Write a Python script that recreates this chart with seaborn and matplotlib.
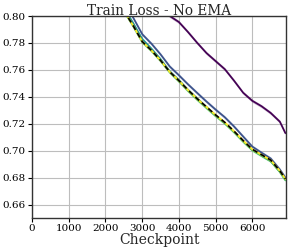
import numpy as np
import pandas as pd
import matplotlib
matplotlib.use("Agg")
import matplotlib.pyplot as plt
import seaborn as sns

checkpoints = [2500, 2750, 3000, 3250, 3500, 3750, 4000, 4250, 4500, 4750,
               5000, 5250, 5500, 5750, 6000, 6250, 6500, 6750, 6900]

loss_purple = [np.nan, np.nan, np.nan, np.nan, 0.806, 0.800, 0.7955, 0.788, 0.780, 0.7725,
               0.7665, 0.7605, 0.752, 0.743, 0.737, 0.733, 0.728, 0.7215, 0.713]
loss_blue = [0.810, 0.799, 0.7865, 0.7795, 0.7715, 0.7625, 0.756, 0.7492, 0.7428, 0.7365,
             0.7305, 0.7248, 0.718, 0.7105, 0.703, 0.6985, 0.6942, 0.686, 0.680]
loss_teal = [0.806, 0.795, 0.783, 0.7758, 0.768, 0.759, 0.7525, 0.7452, 0.7388, 0.7325,
             0.7263, 0.7205, 0.714, 0.707, 0.7005, 0.6963, 0.6922, 0.6843, 0.6782]
loss_green = [0.8035, 0.7925, 0.7805, 0.774, 0.7665, 0.758, 0.7513, 0.7442, 0.7377, 0.7316,
              0.7256, 0.7201, 0.7136, 0.7066, 0.7002, 0.6961, 0.6921, 0.6841, 0.678]
loss_yellow = [0.804, 0.793, 0.781, 0.7745, 0.767, 0.7585, 0.752, 0.745, 0.7385, 0.7325,
               0.7265, 0.721, 0.7145, 0.7075, 0.701, 0.697, 0.693, 0.685, 0.679]

series_names = ["run 1", "run 2", "run 3", "run 4", "run 5"]
series_values = [loss_purple, loss_blue, loss_teal, loss_green, loss_yellow]
band_halfwidth = [0.0012, 0.0012, 0.0008, 0.0010, 0.0008]

x_ticks = [0, 1000, 2000, 3000, 4000, 5000, 6000]
y_ticks = [0.66, 0.68, 0.70, 0.72, 0.74, 0.76, 0.78, 0.80]

colors = ["#440154", "#3b528b", "#21918c", "#5ec962", "#fde725"]

rows = []
for name, vals in zip(series_names, series_values):
    for c, v in zip(checkpoints, vals):
        rows.append({"Checkpoint": c, "loss": v, "series": name})
df = pd.DataFrame(rows)

sns.set_style("white")
plt.rcParams["font.family"] = ["DejaVu Serif"]

fig = plt.figure(figsize=(2.89, 2.52), dpi=100)
ax = fig.add_axes([0.111, 0.135, 0.879, 0.8015])

for name, vals, hw, col in zip(series_names, series_values, band_halfwidth, colors):
    v = np.array(vals, dtype=float)
    ax.fill_between(checkpoints, v - hw, v + hw, color=col, alpha=0.25, lw=0)

sns.lineplot(data=df, x="Checkpoint", y="loss", hue="series", palette=colors,
             hue_order=series_names, ax=ax, legend=False, linewidth=1.25)
sns.lineplot(x=checkpoints, y=loss_yellow, ax=ax, color="black",
             linestyle=(0, (3, 2)), linewidth=1.25)

ax.set_xlim(0, 6920)
ax.set_ylim(0.65, 0.80)
ax.set_xticks(x_ticks)
ax.set_yticks(y_ticks)
ax.set_yticklabels([f"{t:.2f}" for t in y_ticks])
ax.grid(True, color="#bdbdbd", linewidth=0.8)
ax.set_axisbelow(True)
ax.tick_params(axis="both", labelsize=7.5, length=3, width=0.8, pad=1.5,
               direction="out", bottom=True, left=True, colors="black")
for s in ax.spines.values():
    s.set_color("#333333")
    s.set_linewidth(1.0)
ax.set_title("Train Loss - No EMA", fontsize=9.8, pad=1)
ax.set_xlabel("Checkpoint", fontsize=10, labelpad=0)
ax.set_ylabel("")

fig.savefig("out.png", dpi=100)
